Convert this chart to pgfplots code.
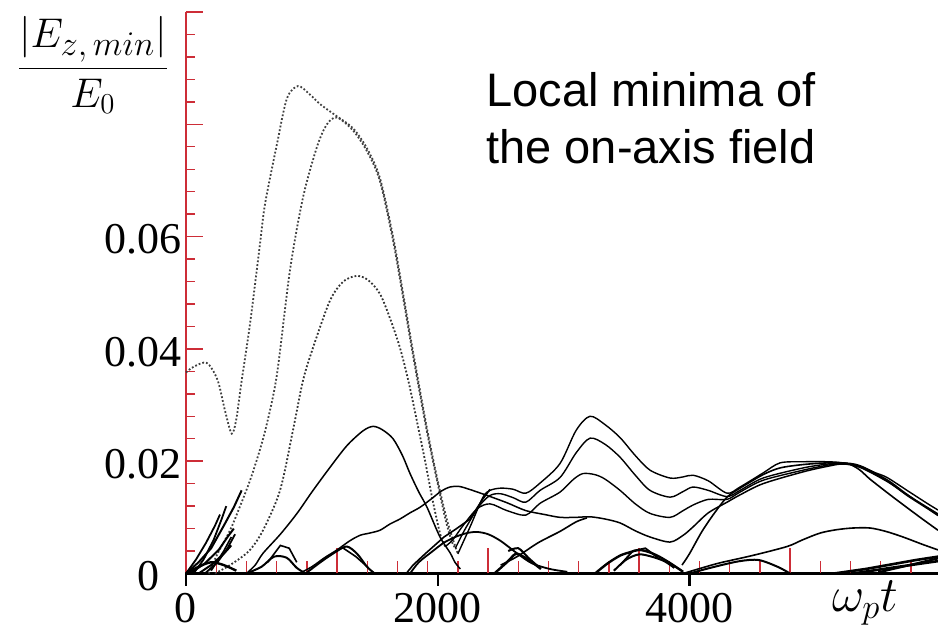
\documentclass[border=0pt]{standalone}
\usepackage{fontspec}
\setmainfont{Liberation Serif}
\newfontfamily\arialfont{Liberation Sans}
\usepackage{amsmath}
\usepackage{pgfplots}
\pgfplotsset{compat=1.18}
\definecolor{axred}{RGB}{205,45,55}
\begin{document}
\begin{tikzpicture}
\begin{axis}[
  scale only axis,
  width=376pt, height=280.75pt,
  xmin=0, xmax=5975, ymin=0, ymax=0.1,
  axis lines=left,
  x axis line style={-, black, line width=1.4pt},
  y axis line style={-, axred, line width=0.7pt},
  tick align=inside,
  tick style={axred, line width=0.7pt},
  major tick length=8.5pt,
  minor tick length=4.5pt,
  ytick={0,0.02,0.04,0.06,0.08,0.1},
  yticklabels={\makebox[22pt][l]{0},0.02,0.04,0.06,{},{}},
  minor y tick num=4,
  xtick={0,2000,4000},
  xticklabels={0,2000,4000},
  major x tick style={draw=none},
  ticklabel style={font=\fontsize{22}{26}\selectfont},
  xticklabel style={yshift=-6.5pt},
  yticklabel style={xshift=1.5pt, yshift=-1.5pt},
  clip=false,
]
% tick marks on the time axis
\pgfplotsinvokeforeach{240,480,720,960,1440,1680,1920,2160,2640,2880,3120,3360,3840,4080,4320,4560,5040,5280,5520,5760}{
  \draw[axred, line width=0.7pt] (axis cs:#1,0) -- ++(0pt,6pt);}
\pgfplotsinvokeforeach{1200,2400,3600,4800}{
  \draw[axred, line width=0.7pt] (axis cs:#1,0) -- ++(0pt,12.5pt);}
\pgfplotsinvokeforeach{0,2000,4000}{
  \draw[black, line width=1.2pt] (axis cs:#1,0) -- ++(0pt,-6.5pt);}

% curve A
\addplot[black!75, densely dotted, line width=0.9pt, smooth] coordinates {
(0,0.0358) (60,0.0368) (165,0.0375) (250,0.0345) (310,0.029) (363,0.0249) (400,0.0275) (440,0.034) (509,0.0445) (588,0.0587) (628,0.0658) (723,0.0765) (802,0.0846) (890,0.0868) (985,0.0853) (1065,0.0836) (1200,0.0814) (1327,0.0793) (1438,0.0757) (1541,0.0704) (1645,0.0600) (1724,0.0500) (1804,0.0395) (1915,0.0258) (2000,0.0165) (2080,0.0090) (2160,0.0035)};
\addplot[black, line width=0.7pt, smooth] coordinates {
(2160,0.0035) (2257,0.0083) (2360,0.0136) (2416,0.0148) (2500,0.0152) (2600,0.0150) (2700,0.0143) (2813,0.0161) (2972,0.0196) (3100,0.0255) (3210,0.0280) (3330,0.0265) (3449,0.0242) (3570,0.0210) (3687,0.0184) (3846,0.0170) (3950,0.0172) (4029,0.0175) (4150,0.0165) (4299,0.0143) (4402,0.0154) (4585,0.0179) (4720,0.0197) (4900,0.0199) (5100,0.0199) (5220,0.0197) (5356,0.0191) (5470,0.0180) (5570,0.0171) (5729,0.0148) (5888,0.0125) (5975,0.0113)};
% curve B
\addplot[black!75, densely dotted, line width=0.9pt, smooth] coordinates {
(180,0) (250,0.0035) (350,0.0077) (430,0.012) (509,0.0166) (580,0.0215) (643,0.0267) (723,0.0355) (826,0.0540) (930,0.0670) (1041,0.0760) (1120,0.0800) (1200,0.0812) (1327,0.0789) (1438,0.0752) (1541,0.0699) (1645,0.0593) (1724,0.0493) (1804,0.0388) (1915,0.0252) (2000,0.0160) (2060,0.0098) (2110,0.0058) (2140,0.0045)};
\addplot[black, line width=0.7pt, smooth] coordinates {
(2140,0.0045) (2220,0.0080) (2330,0.0120) (2416,0.0139) (2500,0.0142) (2600,0.0135) (2700,0.0127) (2813,0.0148) (2972,0.0171) (3100,0.0215) (3210,0.0241) (3330,0.0230) (3449,0.0207) (3570,0.0175) (3687,0.0148) (3846,0.0136) (3950,0.0146) (4029,0.0154) (4150,0.0148) (4299,0.0137) (4402,0.0148) (4585,0.0170) (4903,0.0188) (5100,0.0195) (5220,0.0197) (5356,0.0192) (5570,0.0167) (5729,0.0141) (5888,0.0117) (5975,0.0105)};
% curve C
\addplot[black!80, densely dotted, line width=0.9pt, smooth] coordinates {
(230,0) (350,0.0015) (500,0.0040) (612,0.0077) (747,0.0148) (850,0.0255) (930,0.0344) (1009,0.0402) (1144,0.0486) (1250,0.0520) (1359,0.0530) (1450,0.0522) (1541,0.0498) (1620,0.0455) (1700,0.0402) (1770,0.0340) (1836,0.0270) (1900,0.0200) (1960,0.0130) (2020,0.0070) (2060,0.0048)};
\addplot[black, line width=0.7pt, smooth] coordinates {
(2060,0.0048) (2120,0.0060) (2200,0.0085) (2312,0.0115) (2416,0.0124) (2550,0.0112) (2700,0.0104) (2813,0.0125) (2972,0.0145) (3080,0.0168) (3155,0.0178) (3250,0.0176) (3330,0.0168) (3449,0.0148) (3570,0.0124) (3687,0.0107) (3846,0.0100) (3950,0.0112) (4029,0.0122) (4150,0.0132) (4299,0.0132) (4402,0.0145) (4585,0.0166) (4903,0.0184) (5100,0.0193) (5220,0.0196) (5356,0.0190) (5570,0.0165) (5729,0.0139) (5888,0.0116) (5975,0.0103)};
% curve D
\addplot[black, line width=0.75pt, smooth] coordinates {
(480,0) (550,0.0015) (612,0.0036) (750,0.0070) (882,0.0107) (1000,0.0145) (1144,0.0189) (1280,0.0228) (1406,0.0254) (1486,0.0262) (1560,0.0256) (1645,0.0240) (1720,0.0210) (1780,0.0178) (1850,0.0145) (1915,0.0118) (2018,0.0065) (2098,0.0037) (2137,0.0020) (2180,0.0008)};
% curve F
\addplot[black, line width=0.75pt, smooth] coordinates {
(900,0) (1000,0.0012) (1100,0.0028) (1200,0.0042) (1300,0.0058) (1383,0.0068) (1460,0.0072) (1541,0.0077) (1620,0.0088) (1700,0.0097) (1780,0.0108) (1860,0.0118) (1950,0.0133) (2030,0.0147) (2098,0.0154) (2170,0.0155) (2250,0.0150) (2392,0.0139) (2550,0.0126) (2700,0.0112) (2850,0.0105) (2972,0.0100) (3100,0.0100) (3210,0.0101) (3330,0.0097) (3449,0.0090) (3570,0.0076) (3687,0.0065) (3846,0.0056) (3950,0.0068) (4029,0.0083) (4150,0.0108) (4299,0.0127) (4402,0.0140) (4585,0.0160) (4903,0.0181) (5100,0.0191) (5220,0.0195) (5356,0.0189) (5570,0.0164) (5729,0.0140) (5888,0.0118) (5975,0.0106)};
% rising branches
\addplot[black, line width=0.8pt] coordinates {
(1750,0) (1804,0.0015) (1900,0.0035) (2050,0.0065) (2150,0.0080) (2257,0.0097) (2350,0.0130) (2416,0.0150)};
\addplot[black, line width=0.8pt, smooth] coordinates {
(2500,0.0015) (2630,0.0030) (2800,0.0055) (2972,0.0075) (3100,0.0092) (3186,0.0099)};
\addplot[black, line width=0.8pt, smooth] coordinates {
(3941,0.0015) (4000,0.0035) (4100,0.0075) (4200,0.0108) (4299,0.0136) (4402,0.0152) (4585,0.0176) (4720,0.0188) (4903,0.0194) (5100,0.0197) (5252,0.0196) (5350,0.0185) (5435,0.0168) (5618,0.0136) (5833,0.0100) (5975,0.0077)};
% low humps and clutter
\addplot[black, line width=0.9pt, smooth] coordinates {
(1780,0) (1850,0.0020) (1950,0.0038) (2050,0.0055) (2150,0.0066) (2233,0.0072) (2312,0.0074) (2400,0.0070) (2500,0.0058) (2630,0.0036) (2750,0.0018) (2892,0.0008) (3030,0.0003)};
\addplot[black, line width=0.8pt, smooth] coordinates {
(3950,0) (4100,0.0010) (4243,0.0019) (4500,0.0032) (4775,0.0048) (4900,0.0060) (5038,0.0072) (5170,0.0078) (5300,0.0081) (5435,0.0081) (5560,0.0075) (5697,0.0065) (5850,0.0052) (5975,0.0042)};
\addplot[black, line width=1.3pt] coordinates {(5150,0) (5400,0.0008) (5600,0.0016) (5800,0.0024) (5975,0.0030)};
\addplot[black, line width=1.3pt] coordinates {(5300,0) (5600,0.0010) (5975,0.0022)};
\addplot[black, line width=1.1pt] coordinates {(5500,0.0002) (5750,0.0015) (5975,0.0027)};
\addplot[black, line width=1pt] coordinates {(0,0) (100,0.002) (200,0.0045) (300,0.0085) (380,0.0118) (442,0.0148)};
\addplot[black, line width=1pt] coordinates {(30,0) (150,0.0018) (260,0.0042) (330,0.0065) (380,0.0080)};
\addplot[black, line width=1pt] coordinates {(100,0) (200,0.0015) (300,0.0035) (360,0.005)};
\addplot[black, line width=0.9pt] coordinates {(0,0) (80,0.0025) (160,0.0055) (230,0.0085) (270,0.0105)};
\addplot[black, line width=0.9pt] coordinates {(60,0) (140,0.0025) (220,0.006) (280,0.0095) (320,0.012)};
\addplot[black, line width=0.9pt] coordinates {(150,0) (250,0.002) (330,0.0045) (390,0.007)};
\addplot[black, line width=0.8pt] coordinates {(200,0.0005) (300,0.004) (360,0.0065)};
\addplot[black, line width=1.2pt, smooth] coordinates {(0,0) (100,0.0012) (200,0.002) (300,0.0015) (400,0.0005)};
\addplot[black, line width=1pt, smooth] coordinates {(480,0) (600,0.0012) (700,0.0030) (800,0.0028) (880,0.0010) (950,0)};
\addplot[black, line width=0.8pt] coordinates {(650,0.002) (750,0.005) (820,0.0045) (880,0.002)};
\addplot[black, line width=1pt, smooth] coordinates {(950,0) (1080,0.0022) (1200,0.0040) (1280,0.0048) (1360,0.0035) (1438,0.0012) (1500,0)};
\addplot[black, line width=0.8pt] coordinates {(1250,0.0045) (1350,0.0030) (1450,0.0010)};
\addplot[black, line width=1.2pt, smooth] coordinates {(2450,0) (2550,0.0020) (2620,0.0035) (2680,0.0030) (2750,0.0020) (2820,0.0008)};
\addplot[black, line width=1pt, smooth] coordinates {(2560,0.004) (2640,0.0045) (2720,0.0028) (2800,0.0012)};
\addplot[black, line width=1.2pt, smooth] coordinates {(3250,0) (3350,0.0018) (3450,0.0032) (3530,0.0038) (3600,0.0042) (3680,0.0038) (3760,0.0030) (3850,0.0018) (3950,0.0003)};
\addplot[black, line width=1pt, smooth] coordinates {(3400,0.0005) (3500,0.0025) (3600,0.0034) (3700,0.0030) (3800,0.0022) (3880,0.0010)};
\addplot[black, line width=0.9pt] coordinates {(3450,0.0015) (3550,0.0040) (3650,0.0045) (3750,0.0028)};
\addplot[black, line width=1pt, smooth] coordinates {(4000,0) (4200,0.0012) (4400,0.0022) (4550,0.0024) (4700,0.0012) (4800,0)};

\node[anchor=base west, font=\arialfont\fontsize{23.5}{28}\selectfont, inner sep=0pt] at (axis cs:2384,0.0832) {Local minima of};
\node[anchor=base west, font=\arialfont\fontsize{23.5}{28}\selectfont, inner sep=0pt] at (axis cs:2384,0.0731) {the on-axis field};
\end{axis}
\node at (-46.5pt,254.25pt) {\fontsize{21}{24}\selectfont $\dfrac{|E_{\hbox{\fontsize{18.5}{18.5}\selectfont$z,min$}}|}{E_0}$};
\node at (339.5pt,-14.75pt) {\fontsize{23}{26}\selectfont $\omega_p t$};
\pgfresetboundingbox
\useasboundingbox (-93pt,-31.25pt) rectangle (376pt,286.75pt);
\end{tikzpicture}
\end{document}
